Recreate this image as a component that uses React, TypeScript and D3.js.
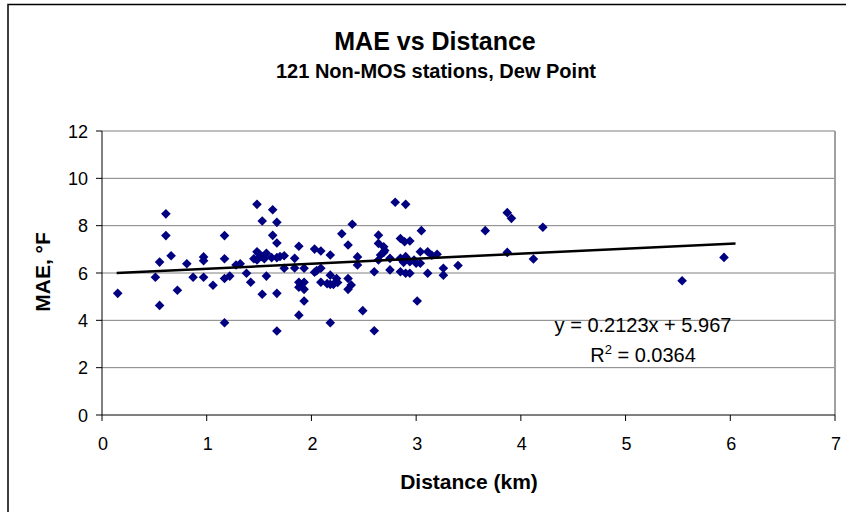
import React from "react";
import * as d3 from "d3";

const distance: number[] = [
  0.15, 0.61, 0.61, 0.66, 0.55, 0.51, 0.55, 0.72, 0.81, 0.87, 0.97, 0.97, 0.97, 1.06,
  1.17, 1.17, 1.17, 1.17, 1.22, 1.28, 1.32, 1.38, 1.42, 1.48, 1.53, 1.63, 1.67, 1.63,
  1.67, 1.48, 1.48, 1.53, 1.57, 1.62, 1.67, 1.74, 1.74, 1.57, 1.53, 1.67, 1.67, 1.84,
  1.88, 1.84, 1.93, 1.88, 1.93, 1.88, 1.93, 1.93, 1.88, 2.03, 2.09, 2.03, 2.09, 2.09,
  2.18, 2.18, 2.18, 2.18, 2.29, 2.39, 2.35, 2.24, 2.21, 2.35, 2.38, 2.35, 2.44, 2.44,
  2.49, 2.60, 2.60, 2.64, 2.64, 2.69, 2.69, 2.66, 2.64, 2.75, 2.80, 2.90, 2.85, 2.89,
  2.94, 3.05, 2.85, 2.90, 2.94, 2.85, 2.90, 2.94, 3.00, 3.04, 3.04, 3.11, 3.20, 3.11,
  3.26, 3.26, 3.01, 2.75, 3.40, 3.66, 3.87, 3.91, 3.87, 4.12, 4.21, 5.54, 5.94,
  1.50, 1.55, 1.70, 1.90, 2.05, 2.25, 2.70, 2.88, 3.15, 1.45, 2.15, 2.98
];

const mae: number[] = [
  5.14, 8.50, 7.58, 6.73, 6.46, 5.82, 4.63, 5.27, 6.39, 5.82, 6.68, 6.52, 5.82, 5.48,
  7.58, 6.60, 5.77, 3.90, 5.87, 6.34, 6.39, 5.99, 5.61, 8.90, 8.20, 8.67, 8.14, 7.59,
  7.27, 6.90, 6.55, 6.69, 6.83, 6.65, 6.65, 6.73, 6.20, 5.87, 5.10, 5.14, 3.55, 6.62,
  7.13, 6.21, 6.20, 5.61, 5.61, 5.40, 5.31, 4.82, 4.22, 7.01, 6.93, 6.03, 5.61, 6.20,
  6.76, 5.91, 5.52, 3.90, 7.66, 8.06, 7.18, 5.77, 5.52, 5.77, 5.49, 5.31, 6.68, 6.34,
  4.41, 6.05, 3.56, 7.60, 7.25, 7.11, 6.87, 6.76, 6.55, 6.13, 8.99, 8.90, 7.46, 7.32,
  7.35, 7.79, 6.62, 6.69, 6.48, 6.05, 5.99, 5.99, 6.41, 6.41, 6.90, 6.90, 6.79, 5.99,
  6.20, 5.91, 4.82, 6.62, 6.32, 7.79, 8.55, 8.31, 6.87, 6.59, 7.93, 5.67, 6.66,
  6.80, 6.60, 6.70, 5.50, 6.10, 5.60, 6.95, 6.45, 6.75, 6.60, 5.55, 6.55
];

const xTicks: number[] = [0, 1, 2, 3, 4, 5, 6, 7];
const yTicks: number[] = [0, 2, 4, 6, 8, 10, 12];

const slope = 0.2123;
const intercept = 5.967;
const trendRange: number[] = [0.14, 6.05];

const titleText = "MAE vs Distance";
const subtitleText = "121 Non-MOS stations, Dew Point";
const xLabel = "Distance (km)";
const yLabel = "MAE, °F";
const eqText = "y = 0.2123x + 5.967";

export default function App() {
  const W = 846;
  const H = 512;
  const left = 102;
  const right = 835;
  const top = 131;
  const bottom = 415;
  const x = d3.scaleLinear().domain([0, 7]).range([left, right]);
  const y = d3.scaleLinear().domain([0, 12]).range([bottom, top]);
  const font = "'Liberation Sans', Arial, sans-serif";

  const points = distance.map((d, i) => ({ d, m: mae[i] }));
  const r = 4.8;
  const diamond = `M0,${-r}L${r},0L0,${r}L${-r},0Z`;
  const trend = d3
    .line<number>()
    .x((v) => x(v))
    .y((v) => y(slope * v + intercept))(trendRange);

  return (
    <svg
      width={W}
      height={H}
      style={{ position: "absolute", left: 0, top: 0, background: "#fff" }}
      fontFamily={font}
    >
      <rect x={0} y={0} width={W} height={H} fill="#fff" />
      <rect x={8} y={4.5} width={900} height={600} fill="none" stroke="#000" strokeWidth={1.5} />

      {/* gridlines */}
      {yTicks.filter((t) => t > 0).map((t) => (
        <line key={"g" + t} x1={left} x2={right} y1={y(t)} y2={y(t)} stroke="#808080" strokeWidth={1} />
      ))}
      <line x1={right} x2={right} y1={top} y2={bottom} stroke="#a0a0a0" strokeWidth={2} />

      {/* axes */}
      <line x1={left} x2={left} y1={top} y2={bottom} stroke="#000" strokeWidth={1} />
      <line x1={left} x2={right} y1={bottom} y2={bottom} stroke="#000" strokeWidth={1} />
      {yTicks.map((t) => (
        <g key={"y" + t}>
          <line x1={left - 6} x2={left} y1={y(t)} y2={y(t)} stroke="#000" />
          <text x={88} y={y(t) + 6.5} textAnchor="end" fontSize={18}>
            {t}
          </text>
        </g>
      ))}
      {xTicks.map((t) => (
        <g key={"x" + t}>
          <line x1={x(t)} x2={x(t)} y1={bottom} y2={bottom + 6} stroke="#000" />
          <text x={x(t) + 1} y={450} textAnchor="middle" fontSize={18}>
            {t}
          </text>
        </g>
      ))}

      {/* points */}
      {points.map((p, i) => (
        <path key={i} d={diamond} transform={`translate(${x(p.d)},${y(p.m)})`} fill="#000080" />
      ))}

      {/* trend line */}
      <path d={trend!} fill="none" stroke="#000" strokeWidth={2.5} />

      {/* equation */}
      <text x={643} y={332} textAnchor="middle" fontSize={20}>
        {eqText}
      </text>
      <text x={643} y={362} textAnchor="middle" fontSize={20}>
        R<tspan dy={-8} fontSize={13}>2</tspan>
        <tspan dy={8}> = 0.0364</tspan>
      </text>

      {/* titles */}
      <text x={435} y={50} textAnchor="middle" fontSize={25} fontWeight="bold">
        {titleText}
      </text>
      <text x={436} y={78} textAnchor="middle" fontSize={20} fontWeight="bold">
        {subtitleText}
      </text>
      <text x={469} y={489} textAnchor="middle" fontSize={21} fontWeight="bold">
        {xLabel}
      </text>
      <text
        transform={`translate(50,${272}) rotate(-90)`}
        textAnchor="middle"
        fontSize={21}
        fontWeight="bold"
      >
        {yLabel}
      </text>
    </svg>
  );
}
